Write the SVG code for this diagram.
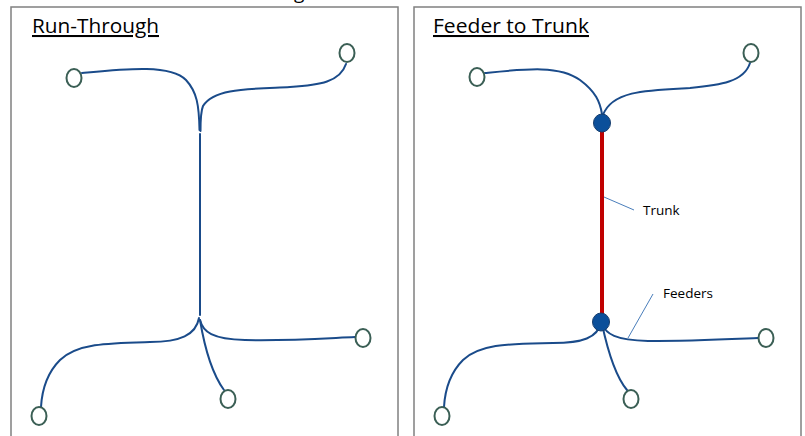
<svg xmlns="http://www.w3.org/2000/svg" width="805" height="436" viewBox="0 0 805 436">
<style>
.panel{fill:#fff;stroke:#808080;stroke-width:1.5}
.title{font-family:"Open Sans","Liberation Sans",sans-serif;font-size:20.5px;fill:#000;text-decoration:underline}
.lbl{font-family:"Open Sans","Liberation Sans",sans-serif;font-size:13.5px;fill:#000}
.ln{fill:none;stroke:#1a4b8a;stroke-width:2;stroke-linecap:round}
.end{fill:#fff;stroke:#3b5f55;stroke-width:2}
.dot{fill:#0b4f9a;stroke:#173e6e;stroke-width:1}
.trunk{stroke:#c00000;stroke-width:4}
.lead{stroke:#4a7ebb;stroke-width:1}
</style>
<rect width="805" height="436" fill="#fff"/>
<text x="294" y="-1.5" font-family="Open Sans, sans-serif" font-size="19">g</text>
<g id="panel-run-through">
<rect class="panel" x="11" y="7" width="387" height="440"/>
<text class="title" x="32" y="33" textLength="127" lengthAdjust="spacingAndGlyphs">Run-Through</text>
</g>
<g id="panel-feeder-trunk">
<rect class="panel" x="414" y="7" width="387" height="440"/>
<text class="title" x="433" y="33" textLength="156" lengthAdjust="spacingAndGlyphs">Feeder to Trunk</text>
</g>
<g id="connectors">
<path class="ln" d="M82,73 C125,69 170,64 186,80 C197,92 199,105 199.5,130"/>
<path class="ln" d="M346,64 C340,82 320,85 290,87 C250,89 214,88 203,106 C200.5,112 200.5,120 200.5,131"/>
<line class="ln" x1="200" y1="134" x2="200" y2="315"/>
<path class="ln" d="M199,318 C196,335 180,342 150,342 C110,343 78,343 60,360 C48,372 42,390 41,407"/>
<path class="ln" d="M200,320 C203,332 212,339 245,340 C290,341 330,338 355,337"/>
<path class="ln" d="M200,320 C205,350 213,375 224,390"/>
<path class="ln" d="M485,73 C525,69 560,65 580,80 C596,92 600,102 602,114"/>
<path class="ln" d="M750,63 C744,82 720,85 690,88 C650,90 612,90 603,115"/>
<path class="ln" d="M601,322 C598,338 582,343 553,343 C513,344 481,343 463,360 C451,372 445,390 444,407"/>
<path class="ln" d="M602,324 C606,334 615,340 648,341 C693,341 733,339 758,338"/>
<path class="ln" d="M602,324 C608,352 616,377 627,390"/>
<line class="trunk" x1="602" y1="130" x2="602" y2="315"/>
<line class="lead" x1="604" y1="197" x2="634" y2="210"/>
<line class="lead" x1="653" y1="294" x2="628" y2="338"/>
</g>
<g id="node-rt-tl"><ellipse class="end" cx="74" cy="78" rx="7.5" ry="9"/></g>
<g id="node-rt-tr"><ellipse class="end" cx="347" cy="53" rx="7.5" ry="9"/></g>
<g id="node-rt-bl"><ellipse class="end" cx="39" cy="416" rx="7.5" ry="9"/></g>
<g id="node-rt-b"><ellipse class="end" cx="228" cy="399" rx="7.5" ry="9"/></g>
<g id="node-rt-r"><ellipse class="end" cx="363" cy="338" rx="7.5" ry="9"/></g>
<g id="node-ft-tl"><ellipse class="end" cx="477" cy="77" rx="7.5" ry="9"/></g>
<g id="node-ft-tr"><ellipse class="end" cx="751" cy="53" rx="7.5" ry="9"/></g>
<g id="node-ft-bl"><ellipse class="end" cx="442" cy="416" rx="7.5" ry="9"/></g>
<g id="node-ft-b"><ellipse class="end" cx="631" cy="399" rx="7.5" ry="9"/></g>
<g id="node-ft-r"><ellipse class="end" cx="766" cy="338" rx="7.5" ry="9"/></g>
<g id="node-ft-top-hub"><ellipse class="dot" cx="602" cy="123" rx="8.5" ry="9"/></g>
<g id="node-ft-bottom-hub"><ellipse class="dot" cx="601" cy="322" rx="8.5" ry="9"/></g>
<g id="label-trunk"><text class="lbl" x="643" y="215">Trunk</text></g>
<g id="label-feeders"><text class="lbl" x="663" y="298">Feeders</text></g>
</svg>
